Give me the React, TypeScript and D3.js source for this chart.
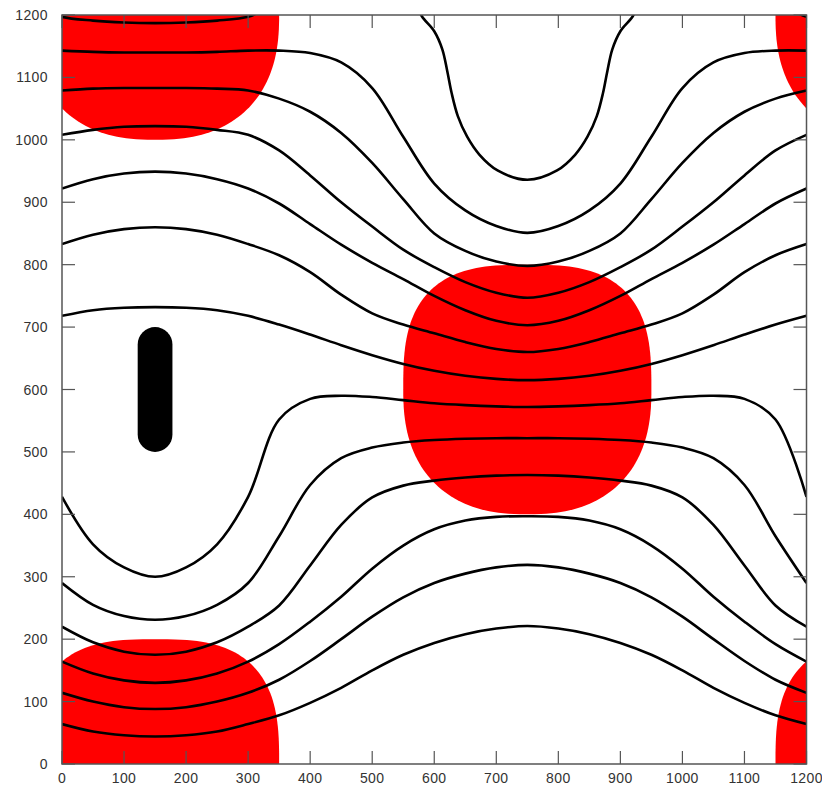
import * as d3 from 'd3'

// sample positions along x for the contour lines
const xs = [0, 50, 100, 150, 200, 250, 300, 350, 400, 450, 500, 550, 600, 650, 700, 750, 800, 850, 900, 950, 1000, 1050, 1100, 1150, 1200]

const lineB = [1143, 1141, 1140, 1140, 1140, 1141, 1143, 1143, 1139, 1124, 1083, 1005, 930, 887, 862, 851, 862, 887, 930, 1005, 1083, 1124, 1139, 1143, 1143]
const lineC = [1079, 1082, 1083, 1083, 1083, 1082, 1079, 1066, 1045, 1011, 963, 905, 850, 822, 805, 798, 805, 822, 850, 905, 963, 1011, 1045, 1066, 1079]
const lineD = [1008, 1016, 1021, 1022, 1021, 1016, 1008, 983, 943, 900, 861, 824, 796, 772, 755, 747, 755, 772, 796, 824, 861, 900, 943, 983, 1008]
const lineE = [922, 937, 946, 949, 946, 937, 922, 898, 865, 832, 803, 777, 750, 727, 710, 703, 710, 727, 750, 777, 803, 832, 865, 898, 922]
const lineF = [833, 848, 857, 860, 857, 848, 833, 815, 788, 752, 722, 704, 690, 676, 665, 660, 665, 676, 690, 704, 722, 752, 788, 815, 833]
const lineG = [718, 727, 731, 732, 731, 727, 718, 704, 688, 671, 655, 641, 630, 622, 617, 615, 617, 622, 630, 641, 655, 671, 688, 704, 718]
const lineH = [428, 352, 315, 300, 315, 352, 428, 552, 585, 590, 588, 583, 578, 575, 573, 572, 573, 575, 578, 583, 588, 590, 585, 552, 428]
const lineI = [290, 255, 237, 231, 237, 255, 290, 365, 447, 490, 507, 515, 519, 521, 522, 522, 522, 521, 519, 515, 507, 490, 447, 365, 290]
const lineJ = [220, 195, 180, 175, 180, 195, 220, 254, 318, 383, 427, 446, 454, 459, 462, 463, 462, 459, 454, 446, 427, 383, 318, 254, 220]
const lineK = [164, 145, 134, 130, 134, 145, 164, 192, 228, 268, 313, 350, 376, 390, 396, 397, 396, 390, 376, 350, 313, 268, 228, 192, 164]
const lineL = [114, 100, 91, 88, 91, 100, 114, 135, 165, 200, 236, 267, 290, 305, 315, 319, 315, 305, 290, 267, 236, 200, 165, 135, 114]
const lineM = [64, 52, 46, 44, 46, 52, 64, 78, 98, 122, 150, 175, 194, 208, 217, 221, 217, 208, 194, 175, 150, 122, 98, 78, 64]

const contourLines = [lineB, lineC, lineD, lineE, lineF, lineG, lineH, lineI, lineJ, lineK, lineL, lineM]

// lines that leave through the top edge
const topArc: [number, number][] = [[-20, 1206], [0, 1197], [50, 1191], [100, 1188], [150, 1187], [200, 1188], [250, 1191], [300, 1197], [320, 1206]]
const topArcRight: [number, number][] = [[1180, 1206], [1200, 1197], [1250, 1191]]
const uLine: [number, number][] = [[568, 1225], [580, 1198], [600, 1174], [613, 1145], [621, 1110], [628, 1075], [638, 1038], [653, 1005], [673, 976], [702, 951], [750, 936], [798, 951], [827, 976], [847, 1005], [862, 1038], [872, 1075], [879, 1110], [887, 1145], [900, 1174], [920, 1198], [932, 1225]]

// red regions: centre x, centre y
const blobCx = [750, 150, 150, 1350, 1350]
const blobCy = [600, 0, 1200, 0, 1200]
const blobR = 200
const blobPUpper = 2.9
const blobPLower = 2.4

// black capsule
const capsule = { x0: 122, x1: 178, y0: 500, y1: 700 }

const ticks = [0, 100, 200, 300, 400, 500, 600, 700, 800, 900, 1000, 1100, 1200]

export default function App() {
  const left = 62, right = 806.5, top = 15, bottom = 764
  const x = d3.scaleLinear().domain([0, 1200]).range([left, right])
  const y = d3.scaleLinear().domain([0, 1200]).range([bottom, top])

  const line = d3.line<number>()
    .x((_, i) => x(xs[i]))
    .y((d) => y(d))
    .curve(d3.curveCatmullRom.alpha(0.5))

  const freeLine = d3.line<[number, number]>()
    .x((d) => x(d[0]))
    .y((d) => y(d[1]))
    .curve(d3.curveCatmullRom.alpha(0.5))

  const angles = d3.range(0, 360, 2).map((a) => (a * Math.PI) / 180)
  const blobPath = (cx: number, cy: number) => {
    const pts = angles.map((t) => {
      const c = Math.cos(t), s = Math.sin(t)
      const p = s >= 0 ? blobPUpper : blobPLower
      const px = cx + blobR * Math.sign(c) * Math.pow(Math.abs(c), 2 / p)
      const py = cy + blobR * Math.sign(s) * Math.pow(Math.abs(s), 2 / p)
      return [x(px), y(py)]
    })
    return 'M' + pts.map((p) => p.join(',')).join('L') + 'Z'
  }

  const tickLen = 13
  const axisColor = '#555'
  const font = 'Liberation Sans, Arial, sans-serif'

  return (
    <svg width={822} height={786} style={{ position: 'absolute', left: 0, top: 0, background: '#fff' }}>
      <defs>
        <clipPath id="plot">
          <rect x={left} y={top} width={right - left} height={bottom - top} />
        </clipPath>
      </defs>
      <g clipPath="url(#plot)">
        {blobCx.map((cx, i) => (
          <path key={'b' + i} d={blobPath(cx, blobCy[i])} fill="#ff0000" />
        ))}
        <rect
          x={x(capsule.x0)}
          y={y(capsule.y1)}
          width={x(capsule.x1) - x(capsule.x0)}
          height={y(capsule.y0) - y(capsule.y1)}
          rx={(x(capsule.x1) - x(capsule.x0)) / 2}
          fill="#000"
        />
        {contourLines.map((vals, i) => (
          <path key={'l' + i} d={line(vals) ?? ''} fill="none" stroke="#000" strokeWidth={2.6} />
        ))}
        <path d={freeLine(topArc) ?? ''} fill="none" stroke="#000" strokeWidth={2.6} />
        <path d={freeLine(topArcRight) ?? ''} fill="none" stroke="#000" strokeWidth={2.6} />
        <path d={freeLine(uLine) ?? ''} fill="none" stroke="#000" strokeWidth={2.6} />
      </g>
      <rect x={left} y={top} width={right - left} height={bottom - top} fill="none" stroke={axisColor} strokeWidth={1.5} />
      {ticks.map((t) => (
        <g key={'t' + t} stroke={axisColor} strokeWidth={1.2}>
          <line x1={x(t)} x2={x(t)} y1={bottom} y2={bottom - tickLen} />
          <line x1={x(t)} x2={x(t)} y1={top} y2={top + tickLen} />
          <line x1={left} x2={left + tickLen} y1={y(t)} y2={y(t)} />
          <line x1={right} x2={right - tickLen} y1={y(t)} y2={y(t)} />
        </g>
      ))}
      {ticks.map((t) => (
        <text key={'xl' + t} x={x(t)} y={783} textAnchor="middle" fontFamily={font} fontSize={14} letterSpacing={0.4} fill="#333">
          {t}
        </text>
      ))}
      {ticks.map((t) => (
        <text key={'yl' + t} x={48} y={y(t) + 5} textAnchor="end" fontFamily={font} fontSize={14} letterSpacing={0.4} fill="#333">
          {t}
        </text>
      ))}
    </svg>
  )
}
